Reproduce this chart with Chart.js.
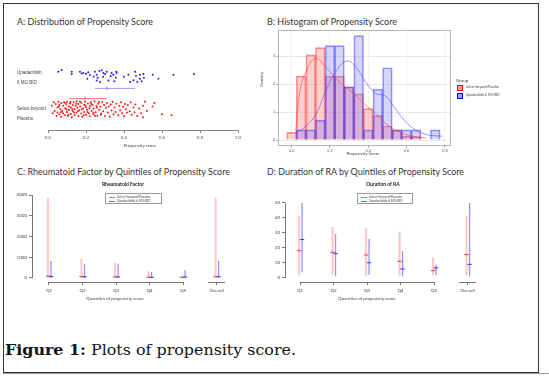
<!DOCTYPE html>
<html lang="en">
<head>
<meta charset="UTF-8" />
<title>Plots of propensity score</title>
<script src="https://cdn.jsdelivr.net/npm/chart.js"></script>
<style>
  body { margin: 0; width: 549px; height: 377px; background: #fff; position: relative; overflow: hidden; font-family: Lato, "Liberation Sans", sans-serif; }
  .frame { position: absolute; left: 3px; top: 3px; width: 536px; height: 370px; border: 1px solid #333; box-sizing: border-box; }
  .shadow { position: absolute; left: 3px; top: 373px; width: 546px; height: 1px; background: #999; }
  canvas { position: absolute; }
  .t { position: absolute; white-space: nowrap; line-height: 1; color: #333; transform: translateY(-50%); transform-origin: left center; }
  .c { transform: translate(-50%, -50%); }
  .tiny { font-size: 4.5px; color: #444; }
  .ptitle { font-size: 9.5px; color: #333; }
  .sub { font-size: 5px; font-weight: bold; color: #222; }
  .lg { position: absolute; border: 0.5px solid #999; background: #fff; box-sizing: border-box; }
  .lg div { position: absolute; font-size: 3.3px; white-space: nowrap; color: #444; line-height: 1; }
  .lg span { position: absolute; height: 1px; width: 6px; }
  .key { position: absolute; width: 6px; height: 5.5px; box-sizing: border-box; }
  .cap { font-family: "DejaVu Serif", "Liberation Serif", serif; font-size: 14.5px; color: #111; }
</style>
</head>
<body>
<div class="frame"></div>
<div class="shadow"></div>

<div class="t ptitle fit" data-w="136" style="left:17px; top:22px;">A: Distribution of Propensity Score</div>
<div class="t ptitle fit" data-w="130" style="left:267px; top:22px;">B: Histogram of Propensity Score</div>
<div class="t ptitle fit" data-w="213" style="left:17px; top:172px;">C: Rheumatoid Factor by Quintiles of Propensity Score</div>
<div class="t ptitle fit" data-w="197" style="left:267px; top:172px;">D: Duration of RA by Quintiles of Propensity Score</div>

<canvas id="chartA" width="240" height="115" style="left:8px; top:40px;"></canvas>
<canvas id="chartB" width="275" height="135" style="left:265px; top:25px;"></canvas>
<canvas id="chartC" width="236" height="118" style="left:8px; top:186px;"></canvas>
<canvas id="chartD" width="232" height="118" style="left:262px; top:186px;"></canvas>

<!-- panel A -->
<div class="t tiny c" style="left:140px; top:146px;">Propensity score</div>

<!-- panel B -->
<div class="t tiny c" style="left:363px; top:154px;">Propensity Score</div>
<div class="t tiny" style="left:270px; top:87px; transform: translate(-50%, -50%) rotate(-90deg);">Density</div>
<div class="t tiny" style="left:456px; top:81px;">Group</div>
<div class="key" style="left:457px; top:85px; background:rgba(255,80,80,0.55); border:0.5px solid #f00;"></div>
<div class="t" style="left:466px; top:88px; font-size:3.3px; color:#444;">Select-beyond Placebo</div>
<div class="key" style="left:457px; top:93px; background:rgba(80,80,255,0.55); border:0.5px solid #00f;"></div>
<div class="t" style="left:466px; top:96px; font-size:3.3px; color:#444;">Upadacitinib 6 MG BID</div>

<!-- panel C -->
<div class="t sub c" style="left:123px; top:184px;">Rheumatoid Factor</div>
<div class="lg" style="left:105px; top:193px; width:57px; height:11px;">
  <span style="left:3px; top:3px; background:#f66;"></span><div style="left:11px; top:1.5px;">Select-beyond Placebo</div>
  <span style="left:3px; top:7px; background:#66f;"></span><div style="left:11px; top:5.5px;">Upadacitinib 6 MG BID</div>
</div>
<div class="t tiny c" style="left:115px; top:299px;">Quantiles of propensity score</div>

<!-- panel D -->
<div class="t sub c" style="left:383px; top:184px;">Duration of RA</div>
<div class="lg" style="left:357px; top:193px; width:56px; height:11px;">
  <span style="left:3px; top:3px; background:#f66;"></span><div style="left:11px; top:1.5px;">Select-beyond Placebo</div>
  <span style="left:3px; top:7px; background:#66f;"></span><div style="left:11px; top:5.5px;">Upadacitinib 6 MG BID</div>
</div>
<div class="t tiny c" style="left:367px; top:299px;">Quantiles of propensity score</div>

<div class="t cap fit" data-w="291" style="left:5px; top:350px;"><b>Figure 1:</b> Plots of propensity score.</div>

<script>
// ---- Panel A: propensity score per patient, [score, jitter row position]
const upaPoints = [
  [0.054,1.10],[0.072,1.15],[0.125,1.10],[0.125,1.03],[0.168,1.10],[0.177,1.05],[0.186,1.06],[0.2,1.04],
  [0.207,0.89],[0.212,1.08],[0.22,1.0],[0.24,0.96],[0.247,1.10],[0.256,1.01],[0.261,0.92],[0.256,0.84],
  [0.27,1.12],[0.274,0.80],[0.283,1.14],[0.29,0.95],[0.291,1.06],[0.3,1.03],[0.309,1.10],[0.318,0.84],
  [0.33,0.97],[0.335,1.06],[0.344,1.01],[0.349,0.82],[0.357,0.92],[0.36,1.1],[0.361,1.06],[0.4,0.95],
  [0.423,1.01],[0.432,0.80],[0.45,0.85],[0.458,1.10],[0.463,0.98],[0.47,0.80],[0.484,0.89],[0.484,1.01],
  [0.493,0.82],[0.502,1.03],[0.505,0.92],[0.551,1.01],[0.581,0.89],[0.66,1.01],[0.768,1.03]
];
const placeboPoints = [
  [0.02,0.1],[0.025,-0.12],[0.03,0.2],[0.035,-0.05],[0.04,0.15],[0.045,-0.2],[0.05,0.05],[0.05,-0.1],
  [0.055,0.22],[0.058,0.08],[0.06,-0.15],[0.06,0.12],[0.065,0.0],[0.068,-0.09],[0.07,-0.22],[0.07,0.18],
  [0.075,-0.05],[0.08,0.1],[0.08,-0.12],[0.085,0.2],[0.088,0.19],[0.09,-0.18],[0.09,0.03],[0.095,0.15],
  [0.098,-0.01],[0.1,-0.08],[0.1,0.22],[0.105,-0.2],[0.108,-0.16],[0.11,0.08],[0.11,-0.02],[0.115,0.17],
  [0.118,0.21],[0.12,-0.14],[0.12,0.05],[0.125,-0.24],[0.128,0.0],[0.13,0.12],[0.13,-0.06],[0.135,0.2],
  [0.138,-0.1],[0.14,0.0],[0.14,-0.17],[0.145,0.1],[0.148,0.16],[0.15,-0.1],[0.15,0.23],[0.155,0.04],
  [0.158,-0.05],[0.16,-0.2],[0.16,0.15],[0.165,-0.03],[0.168,0.22],[0.17,0.08],[0.175,-0.13],[0.175,0.19],
  [0.178,0.0],[0.18,-0.22],[0.185,0.02],[0.188,-0.18],[0.19,0.13],[0.19,-0.08],[0.195,0.22],[0.198,0.11],
  [0.2,-0.16],[0.2,0.06],[0.205,-0.02],[0.208,-0.08],[0.21,0.17],[0.215,-0.12],[0.218,0.03],[0.22,0.09],
  [0.22,-0.21],[0.225,0.2],[0.228,0.15],[0.23,-0.05],[0.235,0.12],[0.238,-0.11],[0.24,-0.15],[0.24,0.02],
  [0.245,0.23],[0.248,-0.2],[0.25,-0.09],[0.255,0.1],[0.258,0.05],[0.26,-0.19],[0.265,0.16],[0.268,0.21],
  [0.27,-0.02],[0.275,0.07],[0.278,-0.16],[0.28,-0.13],[0.285,0.2],[0.29,-0.06],[0.295,0.12],[0.3,-0.2],
  [0.305,0.04],[0.31,0.18],[0.315,-0.1],[0.32,0.08],[0.325,-0.22],[0.33,0.14],[0.335,-0.04],[0.34,0.22],
  [0.345,-0.15],[0.35,0.05],[0.355,-0.08],[0.36,0.16],[0.37,-0.18],[0.375,0.1],[0.38,-0.03],[0.385,0.2],
  [0.39,-0.12],[0.395,0.07],[0.4,-0.2],[0.405,0.15],[0.41,0.0],[0.415,-0.1],[0.42,0.12],[0.43,-0.06],
  [0.435,0.2],[0.44,-0.16],[0.45,0.05],[0.455,-0.09],[0.46,0.14],[0.47,-0.2],[0.48,0.02],[0.49,-0.12],
  [0.5,0.1],[0.5,-0.24],[0.51,0.22],[0.52,-0.05],[0.55,0.08],[0.56,0.18],[0.6,-0.15],[0.65,-0.18]
];
const upaRange = [0.247, 0.31, 0.458];      // low, mean, high
const placeboRange = [0.11, 0.195, 0.31];
const groupNames = [["Select-beyond", "Placebo"], ["Upadacitinib", "6 MG BID"]];
const scoreTicks = [0, 0.2, 0.4, 0.6, 0.8, 1.0];

// ---- Panel B: histogram (density) with bin centres, and kernel density curves
const binCentres = [0, 0.05, 0.1, 0.15, 0.2, 0.25, 0.3, 0.35, 0.4, 0.45, 0.5, 0.55, 0.6, 0.65, 0.7, 0.75];
const placeboDensity = [0.27, 2.28, 3.04, 3.3, 2.28, 2.28, 1.9, 1.65, 1.12, 0.87, 0.5, 0.36, 0.14, 0.12, 0, 0];
const upaDensity = [0, 0.36, 0.36, 0.71, 3.37, 3.37, 1.9, 3.73, 0.36, 1.82, 2.58, 0.36, 0.36, 0.36, 0, 0.36];
const placeboCurve = [[0.021,0.3],[0.043,1.73],[0.078,2.5],[0.125,2.92],[0.177,2.62],[0.23,2.2],[0.28,1.9],
  [0.334,1.6],[0.386,1.25],[0.438,0.95],[0.49,0.6],[0.54,0.36],[0.595,0.2],[0.647,0.12],[0.7,0.08]];
const upaCurve = [[0.021,0.24],[0.073,0.48],[0.125,0.89],[0.177,1.73],[0.23,2.44],[0.287,2.82],[0.334,2.62],
  [0.386,2.08],[0.438,1.67],[0.49,1.57],[0.54,1.13],[0.595,0.65],[0.647,0.36],[0.7,0.2],[0.75,0.15],[0.786,0.14]];
const histXTicks = [0, 0.2, 0.4, 0.6, 0.8];
const densityTicks = [0, 1, 2, 3];

// ---- Panels C and D: range and median by quintile
const quintiles = ["Q1", "Q2", "Q3", "Q4", "Q5", "Overall"];
const rfPlaceboLow = [0, 0, 0, 0, 0, 0];
const rfPlaceboMed = [90, 70, 60, 40, 30, 60];
const rfPlaceboHigh = [3855, 930, 740, 350, 125, 3855];
const rfUpaLow = [0, 0, 0, 0, 0, 0];
const rfUpaMed = [70, 60, 50, 30, 50, 60];
const rfUpaHigh = [833, 690, 690, 290, 370, 833];
const rfTicks = [0, 1000, 2000, 3000, 4000];

const raPlaceboLow = [1.8, 2.2, 1.6, 1.6, 1.8, 1.8];
const raPlaceboMed = [18.2, 17.1, 15.3, 11.1, 4.9, 15.6];
const raPlaceboHigh = [41.1, 34, 32.9, 30.9, 13.8, 41.1];
const raUpaLow = [4, 1.1, 2.2, 1.1, 1.8, 1.1];
const raUpaMed = [25.6, 16.2, 10.2, 6, 6.7, 9.1];
const raUpaHigh = [50, 29.3, 26, 17.8, 8.9, 50];
const raTicks = [0, 10, 20, 30, 40, 50];

const tickFont = { size: 4.5, family: "Lato, 'Liberation Sans', sans-serif" };
const noChrome = { legend: { display: false }, tooltip: { enabled: false } };

// Panel A
new Chart(document.getElementById("chartA"), {
  type: "scatter",
  data: {
    datasets: [
      { type: "line", data: [{ x: upaRange[0], y: 0.61 }, { x: upaRange[2], y: 0.61 }], borderColor: "rgba(90,90,255,0.6)", borderWidth: 1, pointRadius: 0 },
      { data: [{ x: upaRange[1], y: 0.61 }], pointStyle: "line", rotation: 90, pointRadius: 1.8, borderColor: "rgba(90,90,255,0.8)", borderWidth: 0.8 },
      { type: "line", data: [{ x: placeboRange[0], y: 0.31 }, { x: placeboRange[2], y: 0.31 }], borderColor: "rgba(255,60,60,0.7)", borderWidth: 1, pointRadius: 0 },
      { data: [{ x: placeboRange[1], y: 0.31 }], pointStyle: "line", rotation: 90, pointRadius: 1.8, borderColor: "rgba(255,60,60,0.9)", borderWidth: 0.8 },
      { data: upaPoints.map(p => ({ x: p[0], y: p[1] })), backgroundColor: "#2020ff", borderWidth: 0, pointRadius: 1 },
      { data: placeboPoints.map(p => ({ x: p[0], y: p[1] })), backgroundColor: "#ff1a1a", borderWidth: 0, pointRadius: 1 },
    ],
  },
  options: {
    responsive: false,
    animation: false,
    layout: { padding: { left: 9, right: 10, top: 0, bottom: 0 } },
    plugins: noChrome,
    scales: {
      x: {
        type: "linear", min: 0, max: 1,
        afterBuildTicks: s => { s.ticks = scoreTicks.map(v => ({ value: v })); },
        afterFit: s => { s.height = 25; },
        ticks: { font: tickFont, color: "#555", padding: 2, maxRotation: 0, callback: v => v.toFixed(1) },
        grid: { drawOnChartArea: false, tickLength: 3, color: "#888" },
        border: { color: "#888" },
      },
      y: {
        min: -0.611, max: 1.889,
        afterBuildTicks: s => { s.ticks = [{ value: -0.14 }, { value: 0.92 }]; },
        afterFit: s => { s.width = 31; s.paddingTop = 0; s.paddingBottom = 0; },
        ticks: { crossAlign: "far", font: { size: 4.5, lineHeight: 2.2 }, color: "#444", callback: v => (v < 0.5 ? groupNames[0] : groupNames[1]) },
        grid: { display: false },
        border: { display: false },
      },
    },
  },
});

// Panel B
const panelBorder = {
  id: "panelBorder",
  afterDraw(chart) {
    const { ctx, chartArea: a } = chart;
    ctx.save();
    ctx.strokeStyle = "#b5b5b5";
    ctx.lineWidth = 1;
    ctx.strokeRect(a.left + 0.5, a.top + 0.5, a.width - 1, a.height - 1);
    ctx.restore();
  },
};

new Chart(document.getElementById("chartB"), {
  data: {
    datasets: [
      { type: "line", data: placeboCurve.map(p => ({ x: p[0], y: p[1] })), borderColor: "rgba(255,50,50,0.7)", borderWidth: 0.8, pointRadius: 0, tension: 0.4 },
      { type: "line", data: upaCurve.map(p => ({ x: p[0], y: p[1] })), borderColor: "rgba(70,70,255,0.7)", borderWidth: 0.8, pointRadius: 0, tension: 0.4 },
      { type: "bar", data: binCentres.map((c, i) => ({ x: c, y: upaDensity[i] })), backgroundColor: "rgba(100,100,255,0.27)", borderColor: "rgba(40,40,255,0.5)", borderWidth: 1, barThickness: 9.6, grouped: false },
      { type: "bar", data: binCentres.map((c, i) => ({ x: c, y: placeboDensity[i] })), backgroundColor: "rgba(255,100,100,0.3)", borderColor: "rgba(255,30,30,0.5)", borderWidth: 1, barThickness: 9.6, grouped: false },
    ],
  },
  options: {
    responsive: false,
    animation: false,
    layout: { padding: { left: 0, right: 89, top: 5, bottom: 0 } },
    plugins: noChrome,
    scales: {
      x: {
        type: "linear", min: -0.071, max: 0.832, offset: false,
        afterBuildTicks: s => { s.ticks = histXTicks.map(v => ({ value: v })); },
        afterFit: s => { s.height = 14; },
        ticks: { font: { size: 3.8 }, color: "#555", padding: 1, maxRotation: 0, callback: v => v.toFixed(1) },
        grid: { color: "#f1f1f1", tickLength: 2, tickColor: "#aaa", offset: false },
        border: { display: false },
      },
      y: {
        type: "linear", min: -0.214, max: 3.93,
        afterBuildTicks: s => { s.ticks = densityTicks.map(v => ({ value: v })); },
        afterFit: s => { s.width = 13; },
        ticks: { font: { size: 3.8 }, color: "#555", padding: 1 },
        grid: { color: "#e9e9e9", tickLength: 2, tickColor: "#aaa" },
        border: { display: false },
      },
    },
  },
  plugins: [panelBorder],
});

// Panels C and D: base-R style range plots
const baseAxes = {
  id: "baseAxes",
  afterDraw(chart, args, o) {
    const { ctx, chartArea: a, scales: { x, y } } = chart;
    ctx.save();
    ctx.strokeStyle = "#777";
    ctx.lineWidth = 1;
    ctx.beginPath();
    ctx.moveTo(a.left + 0.5, y.getPixelForValue(o.ticks[0]));
    ctx.lineTo(a.left + 0.5, y.getPixelForValue(o.ticks[o.ticks.length - 1]));
    const yb = a.bottom + 0.5;
    ctx.moveTo(x.getPixelForValue(1), yb);
    ctx.lineTo(x.getPixelForValue(5), yb);
    ctx.moveTo(x.getPixelForValue(5.75), yb);
    ctx.lineTo(x.getPixelForValue(6.25), yb);
    ctx.stroke();
    ctx.restore();
  },
};

function segments(low, high, shift) {
  const pts = [];
  low.forEach((lo, i) => {
    pts.push({ x: i + 1 + shift, y: lo }, { x: i + 1 + shift, y: high[i] }, { x: i + 1 + shift, y: null });
  });
  return pts;
}

function rangeChart(id, s) {
  new Chart(document.getElementById(id), {
    type: "line",
    data: {
      datasets: [
        { data: s.pMed.map((m, i) => ({ x: i + 1 - 0.03, y: m })), showLine: false, pointStyle: "line", pointRadius: 2.2, borderColor: "rgba(255,40,40,0.9)", borderWidth: 1 },
        { data: s.uMed.map((m, i) => ({ x: i + 1 + 0.06, y: m })), showLine: false, pointStyle: "line", pointRadius: 2.2, borderColor: "rgba(30,30,255,0.9)", borderWidth: 1 },
        { data: segments(s.pLow, s.pHigh, -0.03), borderColor: "rgba(255,60,60,0.28)", borderWidth: 2.2, pointRadius: 0, spanGaps: false },
        { data: segments(s.uLow, s.uHigh, 0.06), borderColor: "rgba(60,60,255,0.55)", borderWidth: 1.3, pointRadius: 0, spanGaps: false },
      ],
    },
    options: {
      responsive: false,
      animation: false,
      layout: { padding: { left: 0, right: s.padRight, top: 6, bottom: 0 } },
      plugins: Object.assign({ baseAxes: { ticks: s.yTicks } }, noChrome),
      scales: {
        x: {
          type: "linear", min: s.xMin, max: 6.4,
          afterBuildTicks: sc => { sc.ticks = quintiles.map((q, i) => ({ value: i + 1 })); },
          afterFit: sc => { sc.height = 22; },
          ticks: { font: tickFont, color: "#444", padding: 2.5, maxRotation: 0, callback: v => quintiles[v - 1] },
          grid: { drawOnChartArea: false, tickLength: 3, color: "#777" },
          border: { display: false },
        },
        y: {
          type: "linear", min: s.yMin, max: s.yMax,
          afterBuildTicks: sc => { sc.ticks = s.yTicks.map(v => ({ value: v })); },
          afterFit: sc => { sc.width = s.yWidth; },
          ticks: { font: tickFont, color: "#444", padding: 2, callback: v => String(v) },
          grid: { drawOnChartArea: false, tickLength: 3, color: "#777" },
          border: { display: false },
        },
      },
    },
    plugins: [baseAxes],
  });
}

rangeChart("chartC", {
  pLow: rfPlaceboLow, pMed: rfPlaceboMed, pHigh: rfPlaceboHigh,
  uLow: rfUpaLow, uMed: rfUpaMed, uHigh: rfUpaHigh,
  yTicks: rfTicks, yMin: -193, yMax: 4145, xMin: 0.493, yWidth: 24, padRight: 14,
});
rangeChart("chartD", {
  pLow: raPlaceboLow, pMed: raPlaceboMed, pHigh: raPlaceboHigh,
  uLow: raUpaLow, uMed: raUpaMed, uHigh: raUpaHigh,
  yTicks: raTicks, yMin: -2.67, yMax: 57.3, xMin: 0.552, yWidth: 23, padRight: 13,
});

// stretch the text headings to the widths used in the figure
document.querySelectorAll(".fit").forEach(el => {
  el.style.display = "inline-block";
  const w = el.getBoundingClientRect().width;
  el.style.transform = "translateY(-50%) scaleX(" + (Number(el.dataset.w) / w) + ")";
});
</script>
</body>
</html>
